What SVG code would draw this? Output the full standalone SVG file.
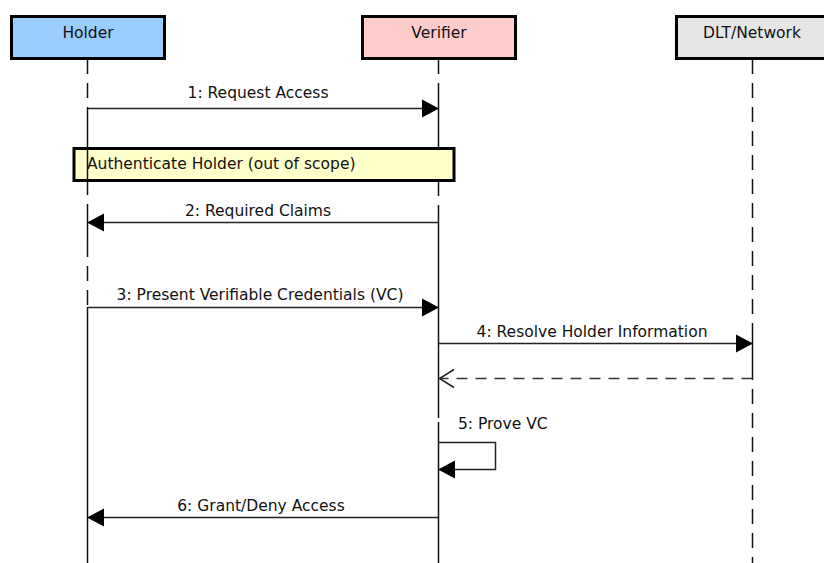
<svg xmlns="http://www.w3.org/2000/svg" width="824" height="563" viewBox="0 0 824 563">
<defs>
<style>
.hdr{stroke:#000;stroke-width:3}
.lbl{font-family:"DejaVu Sans",Verdana,sans-serif;font-size:15.5px;fill:#111}
.ctr{text-anchor:middle}
.dash{stroke:#111;stroke-width:1.5;stroke-dasharray:15,9;fill:none}
.solid{stroke:#111;stroke-width:1.5;fill:none}
.msg{stroke:#222;stroke-width:1.5;fill:none}
.ret{stroke:#333;stroke-width:1.5;fill:none;stroke-dasharray:11,8}
.head{fill:#000}
</style>
</defs>
<rect width="824" height="563" fill="#fff"/>

<g id="lifelines">
<line class="dash" x1="87.5" y1="59" x2="87.5" y2="108"/>
<line class="dash" x1="87.5" y1="180" x2="87.5" y2="210"/>
<line class="dash" x1="87.5" y1="242" x2="87.5" y2="307"/>
<line class="solid" x1="87.5" y1="210" x2="87.5" y2="242"/>
<line class="solid" x1="87.5" y1="307" x2="87.5" y2="563"/>
<line class="dash" x1="438.5" y1="59" x2="438.5" y2="87"/>
<line class="solid" x1="438.5" y1="87" x2="438.5" y2="148"/>
<line class="dash" x1="438.5" y1="181" x2="438.5" y2="208"/>
<line class="solid" x1="438.5" y1="208" x2="438.5" y2="418"/>
<line class="solid" x1="438.5" y1="422" x2="438.5" y2="563"/>
<line class="dash" x1="752.5" y1="59" x2="752.5" y2="323"/>
<line class="solid" x1="752.5" y1="323" x2="752.5" y2="380"/>
<line class="dash" x1="752.5" y1="389" x2="752.5" y2="563"/>
</g>

<g id="holder">
<rect class="hdr" x="11.5" y="16.5" width="153" height="42" fill="#99CCFF"/>
<text class="lbl ctr" x="88" y="38">Holder</text>
</g>
<g id="verifier">
<rect class="hdr" x="362.5" y="16.5" width="153" height="42" fill="#FFCCCC"/>
<text class="lbl ctr" x="439" y="38">Verifier</text>
</g>
<g id="dlt">
<rect class="hdr" x="676.5" y="16.5" width="153" height="42" fill="#E6E6E6"/>
<text class="lbl ctr" x="752" y="38">DLT/Network</text>
</g>

<g id="note">
<rect x="74" y="148.5" width="380" height="32" fill="#FFFFCC" stroke="#000" stroke-width="3"/>
<text class="lbl" x="87" y="169">Authenticate Holder (out of scope)</text>
</g>
<line class="solid" x1="87.5" y1="108" x2="87.5" y2="180"/>

<g id="connectors">
<g id="m1">
<line class="msg" x1="87.5" y1="108.5" x2="424" y2="108.5"/>
<polygon class="head" points="439,108.5 422,99.5 422,117.5"/>
<text class="lbl ctr" x="258" y="98">1: Request Access</text>
</g>
<g id="m2">
<line class="msg" x1="438.5" y1="222.5" x2="102" y2="222.5"/>
<polygon class="head" points="87,222.5 104,213.5 104,231.5"/>
<text class="lbl ctr" x="258" y="216">2: Required Claims</text>
</g>
<g id="m3">
<line class="msg" x1="87.5" y1="307.5" x2="424" y2="307.5"/>
<polygon class="head" points="439,307.5 422,298.5 422,316.5"/>
<text class="lbl ctr" x="260" y="300">3: Present Verifiable Credentials (VC)</text>
</g>
<g id="m4">
<line class="msg" x1="438.5" y1="343.5" x2="738" y2="343.5"/>
<polygon class="head" points="753,343.5 736,334.5 736,352.5"/>
<text class="lbl ctr" x="592" y="337">4: Resolve Holder Information</text>
</g>
<g id="m4r">
<line class="ret" x1="752.5" y1="378.5" x2="440" y2="378.5"/>
<polyline class="msg" points="454,369.5 439.5,378.5 454,387.5"/>
</g>
<g id="m5">
<polyline class="msg" points="438.5,442.5 495.5,442.5 495.5,469.5 452,469.5"/>
<polygon class="head" points="438,469.5 455,460.5 455,478.5"/>
<text class="lbl" x="458" y="429">5: Prove VC</text>
</g>
<g id="m6">
<line class="msg" x1="438.5" y1="517.5" x2="102" y2="517.5"/>
<polygon class="head" points="87,517.5 104,508.5 104,526.5"/>
<text class="lbl ctr" x="261" y="511">6: Grant/Deny Access</text>
</g>
</g>
</svg>
